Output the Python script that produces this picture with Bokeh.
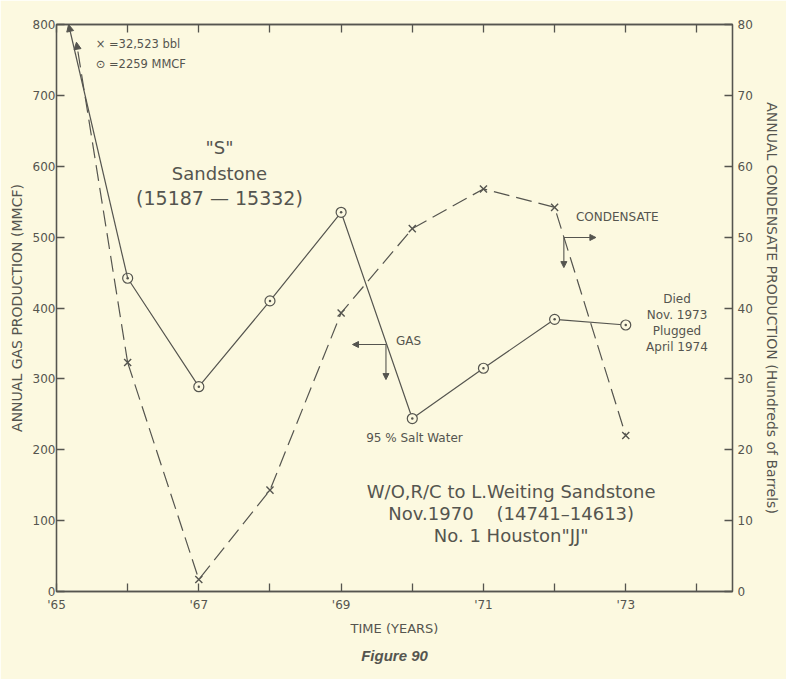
from bokeh.plotting import figure
from bokeh.models import (Range1d, LinearAxis, FixedTicker, Label, Arrow,
                          NormalHead, Title)
from bokeh.embed import file_html
from bokeh.resources import INLINE

# ---------------- data ----------------
years = [1965, 1966, 1967, 1968, 1969, 1970, 1971, 1972, 1973]
# annual gas production, MMCF (1965 off scale: 2259 MMCF)
gas_mmcf = [2259, 442, 289, 410, 535, 244, 315, 384, 376]
# annual condensate production, hundreds of barrels (1965 off scale: 32,523 bbl)
cond_hbbl = [325.23, 32.3, 1.7, 14.3, 39.3, 51.2, 56.8, 54.2, 22.0]

x_label_ticks = [1965, 1967, 1969, 1971, 1973]
x_tick_labels = {1965: "'65", 1967: "'67", 1969: "'69", 1971: "'71", 1973: "'73"}
x_minor_ticks = [1966, 1968, 1970, 1972, 1974]
x_all_ticks = [1965, 1966, 1967, 1968, 1969, 1970, 1971, 1972, 1973, 1974]
gas_ticks = [0, 100, 200, 300, 400, 500, 600, 700, 800]
cond_ticks = [0, 10, 20, 30, 40, 50, 60, 70, 80]

# ---------------- style ----------------
BG = "#fcf9e0"
INK = "#55554f"
FONT = "DejaVu Sans"
NB = "\u00a0"

p = figure(width=786, height=679, output_backend="svg", toolbar_location=None,
           x_range=Range1d(1965, 1974.5), y_range=Range1d(0, 800),
           min_border_left=56, min_border_right=54, min_border_top=24,
           min_border_bottom=88)
p.extra_y_ranges = {"cond": Range1d(0, 80)}
p.background_fill_color = BG
p.border_fill_color = BG
p.outline_line_color = INK
p.outline_line_width = 1.3
p.grid.visible = False


def style_axis(ax, label_size="12px"):
    ax.axis_line_color = INK
    ax.axis_line_width = 1.3
    ax.major_tick_line_color = INK
    ax.major_tick_line_width = 1.3
    ax.major_tick_in = 8
    ax.major_tick_out = 0
    ax.minor_tick_line_color = INK
    ax.minor_tick_line_width = 1.3
    ax.minor_tick_in = 8
    ax.minor_tick_out = 0
    ax.major_label_text_color = INK
    ax.major_label_text_font = FONT
    ax.major_label_text_font_size = label_size
    ax.axis_label_text_color = INK
    ax.axis_label_text_font = FONT
    ax.axis_label_text_font_style = "normal"
    ax.axis_label_text_font_size = "14px"
    ax.major_label_standoff = 2
    ax.axis_label_standoff = 4


# bottom axis: labelled ticks on odd years, plain ticks on even years
xa = p.xaxis[0]
style_axis(xa)
xa.ticker = FixedTicker(ticks=x_label_ticks, minor_ticks=x_minor_ticks)
xa.major_label_overrides = dict(x_tick_labels)
xa.axis_label = "TIME (YEARS)"
xa.axis_label_text_font_size = "13px"
xa.major_label_standoff = 6
xa.axis_label_standoff = 6

# left axis
ya = p.yaxis[0]
style_axis(ya)
ya.ticker = FixedTicker(ticks=gas_ticks)
ya.axis_label = "ANNUAL GAS PRODUCTION (MMCF)"
ya.major_label_standoff = 1
ya.axis_label_standoff = 5

# right axis
ra = LinearAxis(y_range_name="cond", ticker=FixedTicker(ticks=cond_ticks),
                axis_label="ANNUAL CONDENSATE PRODUCTION (Hundreds of Barrels)")
style_axis(ra)
ra.major_label_standoff = 5
ra.axis_label_standoff = 8
p.add_layout(ra, "right")

# top axis: ticks only (no labels)
ta = LinearAxis(ticker=FixedTicker(ticks=[], minor_ticks=x_all_ticks))
style_axis(ta)
p.add_layout(ta, "above")

# ---------------- series ----------------
yrs = years[1:]
g = gas_mmcf[1:]
c = cond_hbbl[1:]

p.line(yrs, g, line_color=INK, line_width=1.2)
p.scatter(yrs, g, marker="circle_dot", size=10, line_color=INK, line_width=1.2,
          fill_color=BG)

p.line(yrs, c, y_range_name="cond", line_color=INK, line_width=1.2,
       line_dash="16 7")
p.scatter(yrs, c, y_range_name="cond", marker="x", size=10, line_color=INK,
          line_width=1.4)

# off-scale 1965 values: arrows pointing to the top edge
GAS_TIP = (1965.17, 800)
COND_TIP = (1965.28, 77.5)
p.add_layout(Arrow(x_start=yrs[0], y_start=g[0], x_end=GAS_TIP[0],
                   y_end=GAS_TIP[1], line_color=INK, line_width=1.2,
                   end=NormalHead(size=7, fill_color=INK, line_color=INK)))
p.add_layout(Arrow(x_start=yrs[0], y_start=c[0], x_end=COND_TIP[0],
                   y_end=COND_TIP[1], y_range_name="cond", line_color=INK,
                   line_width=1.2, line_dash="16 7",
                   end=NormalHead(size=7, fill_color=INK, line_color=INK)))


# ---------------- annotations ----------------
def txt(x, y, s, size, align="center", style="normal"):
    p.add_layout(Label(x=x, y=y, text=s, text_font=FONT,
                       text_font_size=size, text_color=INK,
                       text_align=align, text_baseline="middle",
                       text_font_style=style))


txt(1965.55, 772, "\u00d7 =32,523 bbl", "11.5px", align="left")
txt(1965.55, 744, "\u2299 =2259 MMCF", "11.5px", align="left")

txt(1967.29, 627, '"S"', "18px")
txt(1967.29, 590, "Sandstone", "18px")
txt(1967.29, 555, "(15187 \u2014 15332)", "19px")

txt(1969.77, 354, "GAS", "12px", align="left")
txt(1970.03, 216, "95 % Salt Water", "12px")
txt(1972.30, 529, "CONDENSATE", "12px", align="left")

for yy, s in zip([412, 389.5, 367, 344.5],
                 ["Died", "Nov. 1973", "Plugged", "April 1974"]):
    txt(1973.72, yy, s, "12px")

txt(1971.39, 141, "W/O,R/C to L.Weiting Sandstone", "18px")
txt(1971.39, 110, "Nov.1970" + NB * 4 + "(14741\u201314613)", "18px")
txt(1971.39, 79, 'No. 1 Houston"JJ"', "18px")


# pointer arrows
def ptr(x0, y0, x1, y1):
    p.add_layout(Arrow(x_start=x0, y_start=y0, x_end=x1, y_end=y1,
                       line_color=INK, line_width=1.1,
                       end=NormalHead(size=6, fill_color=INK, line_color=INK)))


ptr(1969.63, 348.5, 1969.16, 348.5)
ptr(1969.63, 348.5, 1969.63, 299)
ptr(1972.13, 499.5, 1972.58, 499.5)
ptr(1972.13, 499.5, 1972.13, 457)

# caption
cap = Title(text="Figure 90", align="center", text_font="Liberation Sans",
            text_font_size="15px", text_font_style="bold italic",
            text_color=INK, standoff=13, offset=18)
p.add_layout(cap, "below")

open("out.html", "w").write(file_html(p, INLINE))
